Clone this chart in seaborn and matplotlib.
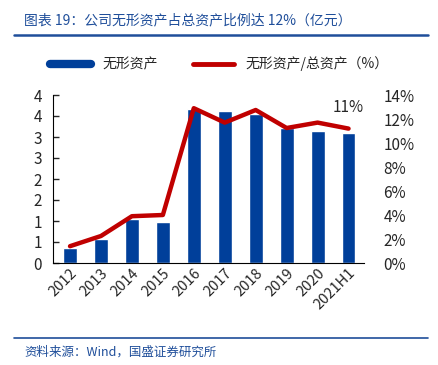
import pandas as pd
import matplotlib.pyplot as plt
import seaborn as sns
from matplotlib.ticker import FuncFormatter, MultipleLocator
from matplotlib.lines import Line2D

# data
years = ['2012', '2013', '2014', '2015', '2016', '2017', '2018', '2019', '2020', '2021H1']
intangible = [0.36, 0.57, 1.05, 0.98, 3.67, 3.62, 3.55, 3.21, 3.14, 3.09]   # 亿元
ratio = [1.4, 2.25, 3.9, 4.0, 12.9, 11.7, 12.75, 11.25, 11.7, 11.2]        # %

df = pd.DataFrame({'year': years, 'intangible': intangible, 'ratio': ratio})

sns.set_style('white')
plt.rcParams['font.family'] = ['Noto Sans CJK SC', 'DejaVu Sans']

bar_color = '#003f9a'
line_color = '#c00000'
title_color = '#1f4e9a'

fig = plt.figure(figsize=(4.38, 3.65), dpi=100)
ax = fig.add_axes([53 / 438, 1 - 263 / 365, (364 - 53) / 438, (263 - 95) / 365])

sns.barplot(data=df, x='year', y='intangible', color=bar_color, width=0.45,
            saturation=1, ax=ax)
ax.set_xlim(-0.55, 9.5)
ax.set_ylim(0, 4)
ax.yaxis.set_major_locator(MultipleLocator(0.5))
# excel-style integer labels, halves rounded up
ax.yaxis.set_major_formatter(FuncFormatter(lambda v, p: f'{int(v + 0.5)}'))
ax.set_xlabel('')
ax.set_ylabel('')
for s in ['top', 'right']:
    ax.spines[s].set_visible(False)
ax.spines['left'].set_color('black')
ax.spines['bottom'].set_color('black')
ax.tick_params(axis='y', direction='in', length=4, width=1, labelsize=11, pad=8)
ax.tick_params(axis='x', length=0, labelsize=10.5, pad=2)
for lab in ax.get_xticklabels():
    lab.set_rotation(45)
    lab.set_ha('right')
    lab.set_rotation_mode('anchor')

ax2 = ax.twinx()
sns.lineplot(x=list(range(len(years))), y=df['ratio'], color=line_color, lw=3.2,
             ax=ax2, solid_capstyle='round', solid_joinstyle='round')
ax2.set_ylim(0, 14)
ax2.yaxis.set_major_locator(MultipleLocator(2))
ax2.yaxis.set_major_formatter(FuncFormatter(lambda v, p: f'{v:.0f}%'))
ax2.set_ylabel('')
for s in ['top', 'right', 'left', 'bottom']:
    ax2.spines[s].set_visible(False)
ax2.tick_params(axis='y', length=0, labelsize=11, pad=14)
ax2.annotate(f'{ratio[-1]:.0f}%', xy=(len(years) - 1, ratio[-1]), xytext=(0, 9),
             textcoords='offset points', ha='center', va='bottom', fontsize=11)

# legend
handles = [Line2D([], [], color=bar_color, lw=6), Line2D([], [], color=line_color, lw=3.5)]
fig.legend(handles, ['无形资产', '无形资产/总资产（%）'], loc='center',
           bbox_to_anchor=(0.5, 1 - 64 / 365), ncol=2, frameon=False,
           fontsize=10, handlelength=3, columnspacing=2.5)

# title, rules and source
fig.text(24 / 438, 1 - 20 / 365, '图表 19：公司无形资产占总资产比例达 12%（亿元）',
         color=title_color, fontsize=10, style='italic', va='center')
fig.add_artist(Line2D([14 / 438, 428 / 438], [1 - 35 / 365] * 2, color=title_color, lw=1.8))
fig.add_artist(Line2D([14 / 438, 428 / 438], [1 - 338 / 365] * 2, color=title_color, lw=1.2))
fig.text(24 / 438, 1 - 352 / 365, '资料来源：Wind，国盛证券研究所',
         color=title_color, fontsize=9, style='italic', va='center')

fig.savefig('out.png', dpi=100)
